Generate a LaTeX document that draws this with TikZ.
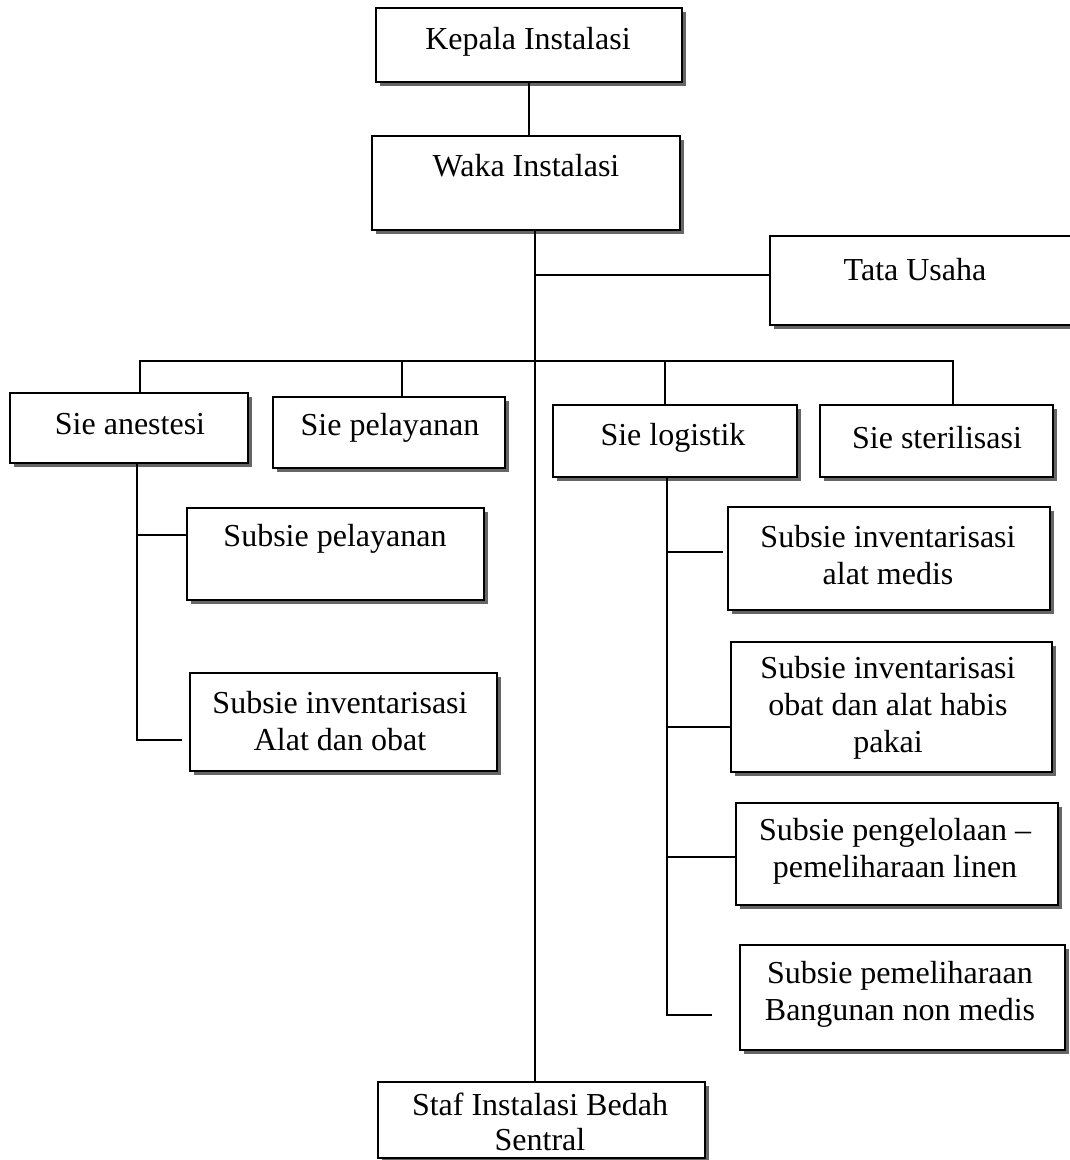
\documentclass[tikz,border=0pt]{standalone}
\usepackage{fontspec}
\setmainfont{Liberation Serif}
\usetikzlibrary{fit,shadows,calc}

\begin{document}
\begin{tikzpicture}[x=1pt,y=-1pt,
  orgbox/.style={draw=black, line width=1.5pt, fill=white, inner sep=0pt,
    drop shadow={fill=black!60, opacity=1, shadow xshift=4pt, shadow yshift=-4pt}},
  lbl/.style={font=\fontsize{32}{37}\selectfont, align=center, inner sep=0pt},
  link/.style={line width=1.6pt, line cap=rect}]
\useasboundingbox (0,0) rectangle (1070,1160);
\fill[white] (0,0) rectangle (1070,1160);

% boxes (pixel corners, y grows downward)
\node[orgbox, fit={(376,8) (682,82)}]      (kepala) {};
\node[orgbox, fit={(372,136) (680,230)}]   (waka) {};
\node[orgbox, fit={(770,236) (1080,325)}]  (tata) {};
\node[orgbox, fit={(10,393) (248,463)}]    (anestesi) {};
\node[orgbox, fit={(273,397) (505,468)}]   (pelayanan) {};
\node[orgbox, fit={(553,405) (797,477)}]   (logistik) {};
\node[orgbox, fit={(820,405) (1053,477)}]  (sterilisasi) {};
\node[orgbox, fit={(187,508) (484,600)}]   (spel) {};
\node[orgbox, fit={(190,673) (497,771)}]   (sinvA) {};
\node[orgbox, fit={(728,507) (1050,610)}]  (smedis) {};
\node[orgbox, fit={(731,642) (1052,772)}]  (sobat) {};
\node[orgbox, fit={(736,803) (1058,905)}]  (slinen) {};
\node[orgbox, fit={(740,945) (1065,1050)}] (sbangun) {};
\node[orgbox, fit={(378,1082) (705,1158)}] (staf) {};

% texts
\node[lbl] (kepala-t) at (528,42) {Kepala Instalasi};
\node[lbl] (waka-t) at (526,166) {Waka Instalasi};
\node[lbl] (tata-t) at (915,270) {Tata Usaha};
\node[lbl] (anestesi-t) at (130,424) {Sie anestesi};
\node[lbl] (pelayanan-t) at (390,428) {Sie pelayanan};
\node[lbl] (logistik-t) at (673,438) {Sie logistik};
\node[lbl] (sterilisasi-t) at (937,438) {Sie sterilisasi};
\node[lbl] (spel-t) at (335,539) {Subsie pelayanan};
\node[lbl] (sinvA-t) at (340,721) {Subsie inventarisasi\\Alat dan obat};
\node[lbl] (smedis-t) at (888,555) {Subsie inventarisasi\\alat medis};
\node[lbl] (sobat-t) at (888,708) {Subsie inventarisasi\\obat dan alat habis\\pakai};
\node[lbl] (slinen-t) at (895,851) {Subsie pengelolaan --\\pemeliharaan linen};
\node[lbl] (sbangun-t) at (900,994) {Subsie pemeliharaan\\Bangunan non medis};
\node[lbl, font=\fontsize{32}{35}\selectfont] (staf-t) at (540,1122) {Staf Instalasi Bedah\\Sentral};

% junction points
\coordinate (tx) at (535,0);
\coordinate (tj) at (535,275);
\coordinate (busL) at (140,361);
\coordinate (busR) at (953,361);
\coordinate (dropP) at (402,361);
\coordinate (dropL) at (665,361);
\coordinate (a1) at (137,535);
\coordinate (a2) at (137,740);
\coordinate (l1) at (667,552);
\coordinate (l2) at (667,727);
\coordinate (l3) at (667,857);
\coordinate (l4) at (667,1015);

% connectors
\draw[link] (kepala.south) -- (kepala.south |- waka.north);
\draw[link] (waka.south -| tx) -- (staf.north -| tx);
\draw[link] (tj) -- (tj -| tata.west);
\draw[link] (busL) -- (busR);
\draw[link] (busL) -- (busL |- anestesi.north);
\draw[link] (dropP) -- (dropP |- pelayanan.north);
\draw[link] (dropL) -- (dropL |- logistik.north);
\draw[link] (busR) -- (busR |- sterilisasi.north);

\draw[link] (anestesi.south -| a1) -- (a2);
\draw[link] (a1) -- (a1 -| spel.west);
\draw[link, shorten >=8pt] (a2) -- (a2 -| sinvA.west);

\draw[link] (logistik.south -| l1) -- (l4);
\draw[link, shorten >=5pt] (l1) -- (l1 -| smedis.west);
\draw[link] (l2) -- (l2 -| sobat.west);
\draw[link] (l3) -- (l3 -| slinen.west);
\draw[link, shorten >=28pt] (l4) -- (l4 -| sbangun.west);
\end{tikzpicture}
\end{document}
